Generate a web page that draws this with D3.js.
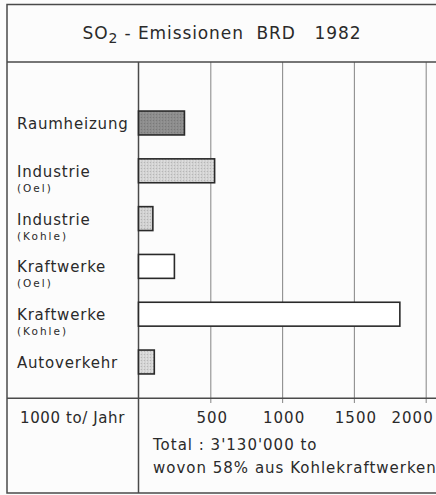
<!DOCTYPE html>
<html>
<head>
<meta charset="utf-8">
<script src="https://cdn.jsdelivr.net/npm/d3@7"></script>
<style>
  body { margin: 0; background: #fcfcfc; }
  text { font-family: "DejaVu Sans", sans-serif; fill: #2a2a2a; white-space: pre; }
</style>
</head>
<body>
<script>
// data (1000 t / year)
var labels    = ["Raumheizung", "Industrie", "Industrie", "Kraftwerke", "Kraftwerke", "Autoverkehr"];
var subLabels = ["", "(Oel)", "(Kohle)", "(Oel)", "(Kohle)", ""];
var values    = [320, 530, 100, 250, 1820, 110];
var ticks     = [500, 1000, 1500, 2000];
var fills     = ["#8c8c8c", "#d2d2d2", "#d0d0d0", "#ffffff", "#ffffff", "#d4d4d4"];

var width = 436,
    height = 495;

var svg = d3.select("body").append("svg")
    .attr("width", width)
    .attr("height", height);

var frameColor = "#4a4a4a";

var x = d3.scaleLinear()
    .domain([0, 2000])
    .range([138.5, 425.7]);

var y = d3.scaleBand()
    .domain(d3.range(values.length))
    .range([99.1, 385.9])
    .paddingInner(0.5)
    .paddingOuter(0.25);

// stipple pattern for the grey bars
var defs = svg.append("defs");
fills.forEach(function(c, i) {
  var p = defs.append("pattern")
      .attr("id", "fill" + i)
      .attr("width", 3).attr("height", 3)
      .attr("patternUnits", "userSpaceOnUse");
  p.append("rect").attr("width", 3).attr("height", 3).attr("fill", c);
  if (c !== "#ffffff") {
    p.append("rect").attr("x", 0).attr("y", 0).attr("width", 1).attr("height", 1)
      .attr("fill", d3.color(c).darker(0.4));
    p.append("rect").attr("x", 2).attr("y", 1.5).attr("width", 1).attr("height", 1)
      .attr("fill", d3.color(c).brighter(0.3));
  }
});

// gridlines with small ticks below the axis line
svg.append("g")
    .attr("transform", "translate(0,403)")
    .call(d3.axisBottom(x).tickValues(ticks).tickSize(-341).tickFormat(""))
    .call(function(g) {
      g.select(".domain").remove();
      g.selectAll(".tick line").attr("stroke", "#8f8f8f").attr("stroke-width", 1.1);
    });

// frame
svg.append("rect")
    .attr("x", 7).attr("y", 4.5)
    .attr("width", 440).attr("height", 488.5)
    .attr("fill", "none")
    .attr("stroke", frameColor)
    .attr("stroke-width", 1.5);

svg.append("line")
    .attr("x1", 7).attr("x2", width)
    .attr("y1", 62).attr("y2", 62)
    .attr("stroke", frameColor).attr("stroke-width", 1.5);

svg.append("line")
    .attr("x1", 7).attr("x2", width)
    .attr("y1", 398.3).attr("y2", 398.3)
    .attr("stroke", frameColor).attr("stroke-width", 1.5);

svg.append("line")
    .attr("x1", x(0)).attr("x2", x(0))
    .attr("y1", 62).attr("y2", 493)
    .attr("stroke", frameColor).attr("stroke-width", 1.5);

// title
var title = svg.append("text")
    .attr("x", 222)
    .attr("y", 39)
    .attr("text-anchor", "middle")
    .style("font-size", "17px")
    .style("letter-spacing", "0.9px");
title.append("tspan").text("SO");
title.append("tspan").attr("dy", 4).style("font-size", "14px").text("2");
title.append("tspan").attr("dy", -4).text(" - Emissionen  BRD   1982");

// bars
svg.append("g")
  .selectAll("rect")
    .data(values)
  .enter().append("rect")
    .attr("x", x(0))
    .attr("y", function(d, i) { return y(i); })
    .attr("width", function(d) { return x(d) - x(0); })
    .attr("height", y.bandwidth())
    .attr("fill", function(d, i) { return "url(#fill" + i + ")"; })
    .attr("stroke", "#2a2a2a")
    .attr("stroke-width", 1.6);

// category labels
var rows = svg.append("g")
  .selectAll("g")
    .data(labels)
  .enter().append("g")
    .attr("transform", function(d, i) {
      return "translate(17," + (y(i) + y.bandwidth() / 2) + ")";
    });

rows.append("text")
    .attr("y", 6)
    .style("font-size", "15px")
    .style("letter-spacing", "0.8px")
    .text(function(d) { return d; });

rows.append("text")
    .attr("y", 21)
    .style("font-size", "10.5px")
    .style("letter-spacing", "2px")
    .text(function(d, i) { return subLabels[i]; });

// tick labels
svg.append("g")
  .selectAll("text")
    .data(ticks)
  .enter().append("text")
    .attr("x", function(d, i) { return x(d) + (i === ticks.length - 1 ? 8 : 2); })
    .attr("y", 423)
    .attr("text-anchor", function(d, i) { return i === ticks.length - 1 ? "end" : "middle"; })
    .style("font-size", "15px")
    .style("letter-spacing", "1px")
    .text(function(d) { return d; });

svg.append("text")
    .attr("x", 20)
    .attr("y", 423)
    .style("font-size", "15px")
    .style("letter-spacing", "0.6px")
    .text("1000 to/ Jahr");

svg.append("text")
    .attr("x", 153)
    .attr("y", 450)
    .style("font-size", "15px")
    .style("letter-spacing", "1px")
    .text("Total : 3'130'000 to");

svg.append("text")
    .attr("x", 153)
    .attr("y", 473)
    .style("font-size", "15px")
    .style("letter-spacing", "1px")
    .text("wovon 58% aus Kohlekraftwerken");
</script>
</body>
</html>
